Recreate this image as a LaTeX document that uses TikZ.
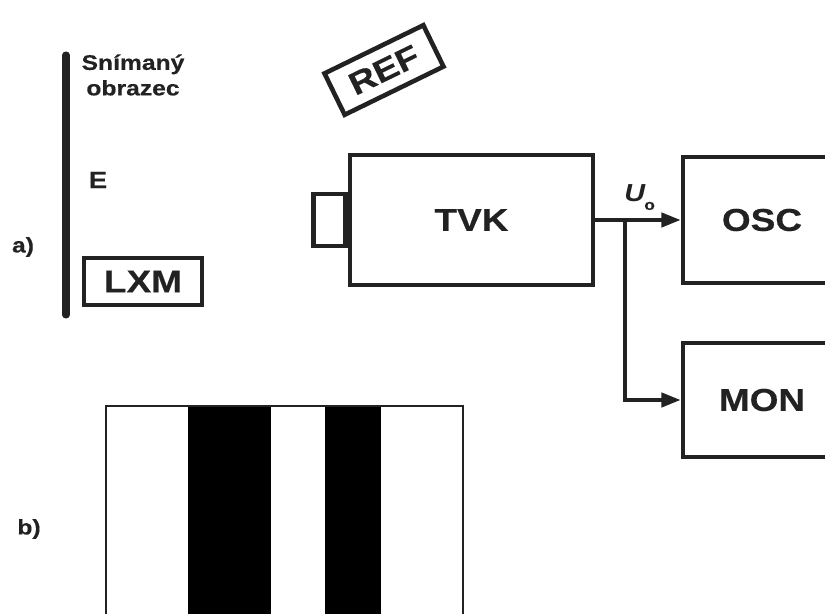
\documentclass[tikz,border=0pt]{standalone}
\usepackage{fontspec}
\setmainfont{Liberation Sans}[FakeStretch=1.17, BoldFeatures={FakeBold=0.4}]
\usetikzlibrary{arrows.meta, positioning}
\definecolor{inkgray}{HTML}{222222}

\begin{document}
\begin{tikzpicture}[
  x=0.02cm, y=-0.02cm,
  block/.style    = {rectangle, draw=inkgray, line width=2.6pt, inner sep=0pt,
                     font=\fontsize{18}{20}\selectfont\bfseries, text=inkgray},
  arrow/.style    = {-{Triangle[length=11pt, width=8pt]}, line width=2.3pt, color=inkgray},
  tag/.style      = {font=\fontsize{12}{13}\selectfont\bfseries, text=inkgray, inner sep=0pt},
]
\useasboundingbox (0,0) rectangle (825,614);
\clip (0,0) rectangle (825,614);

% Scene (a)
\draw[line width=4pt, line cap=round, color=inkgray] (66,55) -- (66,315);
\node[tag, align=center, font=\fontsize{12}{14.5}\selectfont\bfseries] (scene) at (133,75) {Snímaný\\obrazec};
\node[tag, font=\fontsize{13.5}{15}\selectfont\bfseries] (light) at (98,180) {E};
\node[block, line width=2.2pt, minimum width=2.36cm, minimum height=0.94cm] (lxm) at (143,281.5) {LXM};
\node[block, rotate=26, minimum width=2.2cm, minimum height=0.92cm] (ref) at (384,70) {REF};
\node[tag] (parta) at (23,247) {a)};

% Blocks
\node[block, minimum width=4.86cm, minimum height=2.6cm] (tvk) at (471.5,220) {TVK};
\node[block, anchor=east, minimum width=0.64cm, minimum height=1.04cm] (lens) at (tvk.west) {};
\node[block, minimum width=3.16cm, minimum height=2.52cm] (osc) at (762,220) {OSC};
\node[block, minimum width=3.16cm, minimum height=2.28cm] (mon) at (762,400) {MON};

% Arrows
\coordinate (split) at (625,220);
\draw[arrow] (tvk.east) -- (osc.west);
\draw[arrow] (split) |- (mon.west);
\node[anchor=base west, inner sep=0pt, text=inkgray,
      font=\fontsize{14}{15}\selectfont] (uo) at (624,202)
      {\bfseries\itshape U\kern-0.5pt\raisebox{-4.5pt}{\fontsize{8.5}{9}\selectfont\upshape o}};

% Pattern (b)
\node[tag] (partb) at (29,529) {b)};
\fill[black] (188,406) rectangle (271,640);
\fill[black] (325,406) rectangle (381,640);
\draw[line width=1.2pt, color=inkgray] (106,406) rectangle (463,640);
\end{tikzpicture}
\end{document}
